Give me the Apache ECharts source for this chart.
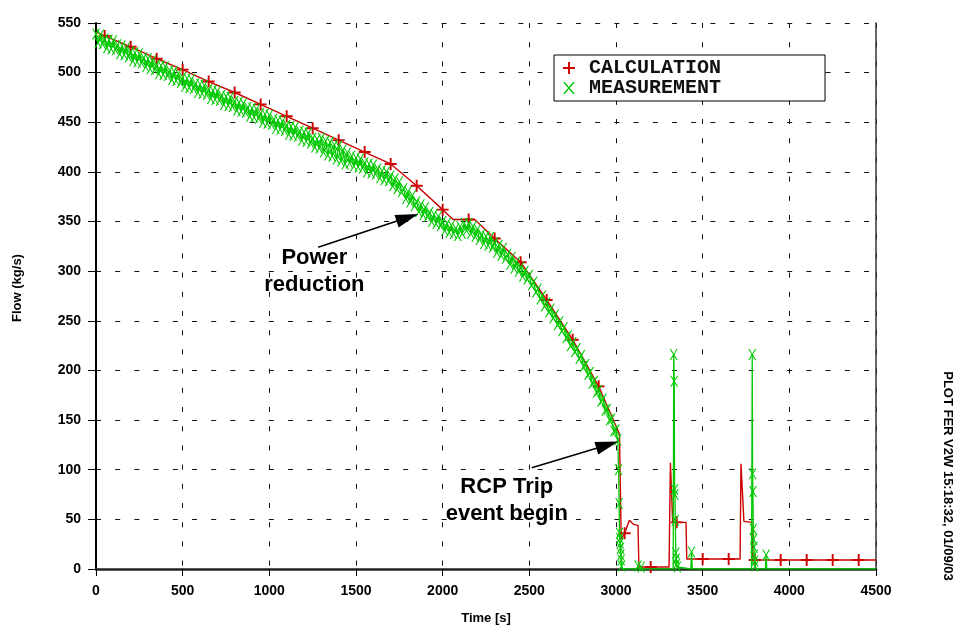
<!DOCTYPE html>
<html>
<head>
<meta charset="utf-8">
<script src="https://cdn.jsdelivr.net/npm/echarts@6/dist/echarts.min.js"></script>
<style>html,body{margin:0;padding:0;background:#fff;}#c{width:958px;height:626px;}</style>
</head>
<body>
<div id="c"></div>
<script>
// ---- data ----
const seriesNames = ['CALCULATION', 'MEASUREMENT'];
const xRange = [0, 4500, 500];
const yRange = [0, 550, 50];
const xName = 'Time [s]';
const yName = 'Flow (kg/s)';
const sideNote = 'PLOT FER V2W 15:18:32, 01/09/03';
const notePower = 'Power\nreduction';
const noteTrip = 'RCP Trip\nevent begin';

const calcTime = [0, 50, 200, 350, 500, 650, 800, 950, 1100, 1250, 1400, 1550, 1700, 1850, 2000, 2060, 2150, 2185,
  2300, 2450, 2600, 2750, 2900, 3020, 3030, 3050, 3077, 3100, 3127, 3132, 3200, 3306, 3314, 3327, 3350, 3404, 3408,
  3500, 3650, 3716, 3721, 3738, 3783, 3790, 3800, 3950, 4100, 4250, 4400, 4500];
const calcFlow = [541, 537, 526, 514, 503, 491, 480, 468, 456, 444, 432, 420, 408, 386, 362, 352, 352, 352,
  333, 309, 271, 231, 184, 136, 30, 36, 49, 45, 44, 2, 2, 2, 107, 47, 47, 47, 10,
  10, 10, 10, 106, 48, 47, 9, 9, 9, 9, 9, 9, 9];

const measTime = [
  0, 12.5, 25, 37.5, 50, 62.5, 75, 87.5, 100, 112.5, 125, 137.5, 150, 162.5, 175, 187.5, 200, 212.5, 225, 237.5,
  250, 262.5, 275, 287.5, 300, 312.5, 325, 337.5, 350, 362.5, 375, 387.5, 400, 412.5, 425, 437.5, 450, 462.5, 475, 487.5,
  500, 512.5, 525, 537.5, 550, 562.5, 575, 587.5, 600, 612.5, 625, 637.5, 650, 662.5, 675, 687.5, 700, 712.5, 725, 737.5,
  750, 762.5, 775, 787.5, 800, 812.5, 825, 837.5, 850, 862.5, 875, 887.5, 900, 912.5, 925, 937.5, 950, 962.5, 975, 987.5,
  1000, 1012.5, 1025, 1037.5, 1050, 1062.5, 1075, 1087.5, 1100, 1112.5, 1125, 1137.5, 1150, 1162.5, 1175, 1187.5, 1200, 1212.5, 1225, 1237.5,
  1250, 1262.5, 1275, 1287.5, 1300, 1312.5, 1325, 1337.5, 1350, 1362.5, 1375, 1387.5, 1400, 1412.5, 1425, 1437.5, 1450, 1462.5, 1475, 1487.5,
  1500, 1512.5, 1525, 1537.5, 1550, 1562.5, 1575, 1587.5, 1600, 1612.5, 1625, 1637.5, 1650, 1662.5, 1675, 1687.5, 1700, 1712.5, 1725, 1737.5,
  1750, 1762.5, 1775, 1787.5, 1800, 1812.5, 1825, 1837.5, 1850, 1862.5, 1875, 1887.5, 1900, 1912.5, 1925, 1937.5, 1950, 1962.5, 1975, 1987.5,
  2000, 2012.5, 2025, 2037.5, 2050, 2062.5, 2075, 2087.5, 2100, 2112.5, 2125, 2137.5, 2150, 2162.5, 2175, 2187.5, 2200, 2212.5, 2225, 2237.5,
  2250, 2262.5, 2275, 2287.5, 2300, 2312.5, 2325, 2337.5, 2350, 2362.5, 2375, 2387.5, 2400, 2412.5, 2425, 2437.5, 2450, 2462.5, 2475, 2487.5,
  2500, 2512.5, 2525, 2537.5, 2550, 2562.5, 2575, 2587.5, 2600, 2612.5, 2625, 2637.5, 2650, 2662.5, 2675, 2687.5, 2700, 2712.5, 2725, 2737.5,
  2750, 2762.5, 2775, 2787.5, 2800, 2812.5, 2825, 2837.5, 2850, 2862.5, 2875, 2887.5, 2900, 2912.5, 2925, 2937.5, 2950, 2962.5, 2975, 2987.5,
  3000, 3010, 3015, 3018, 3020, 3022, 3024, 3026, 3028, 3030, 3032, 3036, 3120, 3127, 3134, 3145, 3150,
  3330, 3333, 3336, 3338, 3340, 3342, 3345, 3348, 3350, 3354, 3357, 3432, 3436, 3440,
  3782, 3786, 3788, 3790, 3792, 3794, 3796, 3798, 3800, 3802, 3805, 3862, 3866, 3870, 4500];
const measFlow = [
  539, 530, 538, 529, 534, 525, 533, 524, 532, 523, 528, 519, 527, 518, 525, 516, 521, 512, 520, 511,
  519, 510, 515, 506, 514, 504, 512, 503, 508, 499, 507, 498, 506, 497, 502, 493, 501, 492, 499, 490,
  495, 486, 494, 485, 493, 484, 489, 480, 488, 479, 487, 478, 483, 474, 482, 473, 481, 472, 477, 468,
  476, 467, 475, 466, 471, 462, 470, 461, 469, 460, 465, 456, 464, 455, 463, 454, 459, 450, 458, 449,
  457, 448, 453, 444, 452, 443, 451, 442, 447, 438, 446, 437, 445, 436, 441, 432, 440, 431, 439, 429,
  434, 425, 433, 424, 434, 420, 431, 417, 430, 416, 427, 413, 426, 411, 422, 408, 419, 409, 416, 406,
  414, 405, 413, 404, 409, 400, 408, 399, 407, 398, 403, 394, 401, 392, 400, 391, 396, 386, 393, 383,
  390, 380, 383, 373, 380, 370, 376, 366, 370, 360, 367, 357, 364, 355, 359, 350, 357, 348, 355, 346,
  350, 341, 348, 339, 346, 338, 343, 336, 345, 338, 348, 341, 348, 338, 345, 335, 342, 332, 337, 328,
  335, 326, 334, 324, 329, 319, 326, 316, 323, 313, 317, 307, 314, 303, 309, 300, 304, 295, 300, 292,
  296, 286, 289, 279, 282, 272, 275, 265, 268, 259, 262, 253, 256, 246, 249, 240, 243, 233, 235, 225,
  228, 219, 222, 212, 215, 204, 206, 196, 198, 187, 189, 178, 180, 169, 171, 160, 161, 150, 151, 139,
  140, 130, 100, 66, 36, 31, 26, 21, 14, 9, 3, 0, 0, 3, 0, 2, 0,
  0, 216, 189, 80, 75, 49, 16, 10, 5, 2, 0, 0, 17, 0,
  0, 216, 96, 78, 40, 30, 22, 14, 8, 3, 0, 0, 14, 0, 0];

// annotation arrows: [time, flow] of tail and of arrow-head centre
const arrowPowerFrom = [1282, 324];
const arrowPowerTo = [1797, 354];
const arrowTripFrom = [2514, 102];
const arrowTripTo = [2950, 125];
const notePowerAt = [1260, 300];
const noteTripAt = [2370, 69];

// ---- styling ----
const LABEL_FONT = "'Liberation Sans',Arial,sans-serif";
const RED = '#cc0000';
const GREEN = '#00c800';
const PLUS = 'path://M4.2,0 H5.8 V4.2 H10 V5.8 H5.8 V10 H4.2 V5.8 H0 V4.2 H4.2 Z';
const CROSS = 'path://M0,0 H1.6 L5,4.2 L8.4,0 H10 L5.8,5 L10,10 H8.4 L5,5.8 L1.6,10 H0 L4.2,5 Z';

const calcData = calcTime.map((t, i) => [t, calcFlow[i]]);
const measData = measTime.map((t, i) => [t, measFlow[i]]);

const chart = echarts.init(document.getElementById('c'), null, {renderer: 'canvas'});
const axisLabelStyle = {color: '#000', fontFamily: LABEL_FONT, fontWeight: 'bold', fontSize: 14,
  formatter: (v) => String(v)};
const gridLine = {show: true, lineStyle: {color: '#111', width: 1, type: [5, 14.2]}};

chart.setOption({
  animation: false,
  backgroundColor: '#fff',
  grid: {left: 96, right: 82, top: 23, bottom: 57, containLabel: false, outerBoundsMode: 'none'},
  legend: {
    left: 554, top: 55, orient: 'vertical',
    padding: [3, 104, 3, 9],
    itemGap: 0, itemWidth: 12, itemHeight: 12,
    backgroundColor: '#fff', borderColor: '#000', borderWidth: 1, borderRadius: 0,
    textStyle: {fontFamily: "'Liberation Mono','Courier New',monospace", fontWeight: 'bold', fontSize: 20,
      color: '#111', lineHeight: 20, padding: [0, 0, 0, 9]},
    data: [{name: seriesNames[0], icon: PLUS}, {name: seriesNames[1], icon: CROSS}]
  },
  xAxis: {
    type: 'value', min: xRange[0], max: xRange[1], interval: xRange[2],
    name: xName, nameLocation: 'middle', nameGap: 43,
    nameTextStyle: {color: '#000', fontFamily: LABEL_FONT, fontWeight: 'bold', fontSize: 13},
    axisLine: {show: true, onZero: false, lineStyle: {color: '#222', width: 2.5}},
    axisTick: {show: true, inside: false, length: 7, lineStyle: {color: '#000', width: 1}},
    axisLabel: Object.assign({margin: 15}, axisLabelStyle),
    splitLine: gridLine
  },
  yAxis: [{
    type: 'value', min: yRange[0], max: yRange[1], interval: yRange[2],
    name: yName, nameLocation: 'middle', nameGap: 72, nameRotate: 90,
    nameTextStyle: {color: '#000', fontFamily: LABEL_FONT, fontWeight: 'bold', fontSize: 13, padding: [0, 0, 0, 16]},
    axisLine: {show: true, onZero: false, lineStyle: {color: '#000', width: 2}},
    axisTick: {show: true, inside: false, length: 8, lineStyle: {color: '#000', width: 1}},
    axisLabel: Object.assign({margin: 15}, axisLabelStyle),
    splitLine: gridLine
  }, {
    type: 'value', min: yRange[0], max: yRange[1], interval: yRange[2], position: 'right',
    axisLine: {show: true, onZero: false, lineStyle: {color: '#333', width: 1.5}},
    axisTick: {show: false}, axisLabel: {show: false}, splitLine: {show: false}
  }],
  series: [{
    name: seriesNames[0], type: 'line', data: calcData, yAxisIndex: 0,
    color: RED, showAllSymbol: true, symbol: PLUS,
    symbolSize: (v) => (((v[0] - 50) % 150 === 0) ? 12 : 0),
    lineStyle: {color: RED, width: 1.4}, itemStyle: {color: RED},
    z: 3,
    markLine: {
      silent: true, symbol: ['none', 'triangle'], symbolSize: [13, 23],
      lineStyle: {color: '#000', width: 1.6, type: 'solid'},
      label: {show: false}, emphasis: {disabled: true},
      data: [
        [{coord: arrowPowerFrom}, {coord: arrowPowerTo}],
        [{coord: arrowTripFrom}, {coord: arrowTripTo}]
      ]
    }
  }, {
    name: seriesNames[1], type: 'line', data: measData, yAxisIndex: 0,
    color: GREEN, showAllSymbol: true, symbol: CROSS,
    symbolSize: (v) => (v[1] > 0 ? [8, 11] : 0),
    lineStyle: {color: GREEN, width: 1.3}, itemStyle: {color: GREEN},
    z: 4
  }],
  graphic: []
});

function placeNotes() {
  const p1 = chart.convertToPixel({gridIndex: 0}, notePowerAt);
  const p2 = chart.convertToPixel({gridIndex: 0}, noteTripAt);
  chart.setOption({graphic: [
    {type: 'text', x: p1[0], y: p1[1], z: 10,
      style: {text: notePower, fill: '#000', font: "bold 22px 'Liberation Sans',Arial,sans-serif",
        textAlign: 'center', textVerticalAlign: 'middle', lineHeight: 27}},
    {type: 'text', x: p2[0], y: p2[1], z: 10,
      style: {text: noteTrip, fill: '#000', font: "bold 22px 'Liberation Sans',Arial,sans-serif",
        textAlign: 'center', textVerticalAlign: 'middle', lineHeight: 27}},
    {type: 'text', x: 948, y: 476, rotation: -Math.PI / 2, z: 10,
      style: {text: sideNote, fill: '#000', font: "bold 13px " + LABEL_FONT,
        textAlign: 'center', textVerticalAlign: 'middle'}}
  ]});
}
placeNotes();
</script>
</body>
</html>
